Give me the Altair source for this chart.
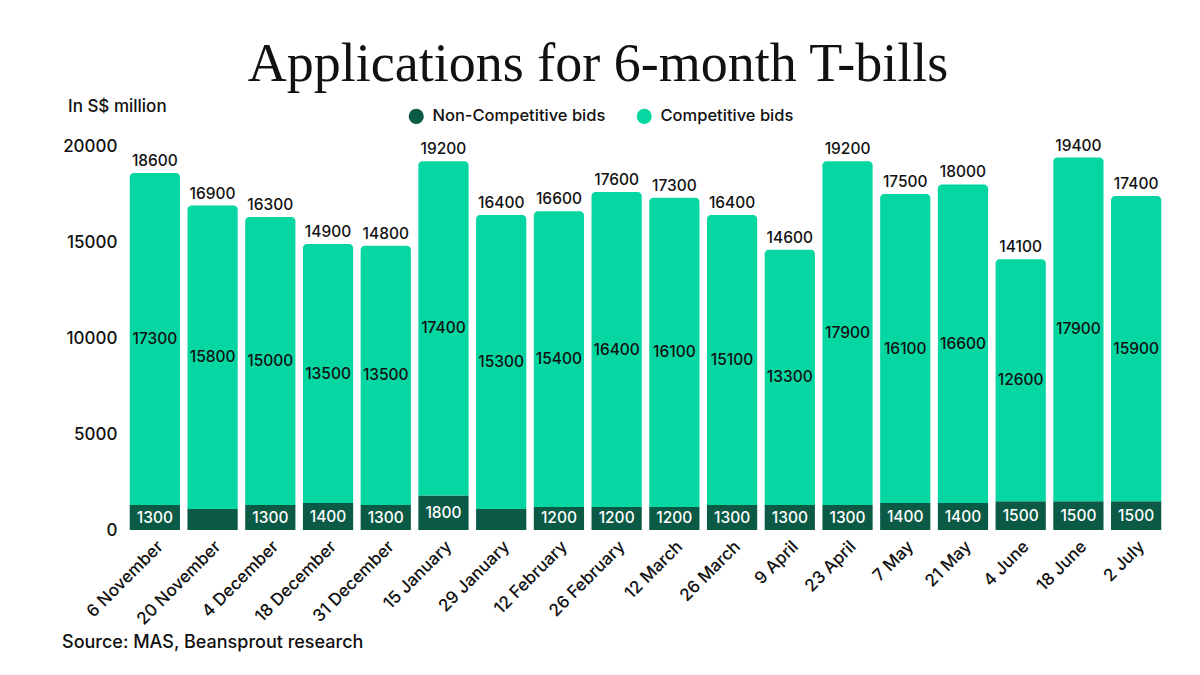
import altair as alt
import pandas as pd

# Auction dates (6-month T-bills)
dates = ["6 November", "20 November", "4 December", "18 December", "31 December",
         "15 January", "29 January", "12 February", "26 February", "12 March",
         "26 March", "9 April", "23 April", "7 May", "21 May", "4 June",
         "18 June", "2 July"]
# Applications, S$ million
total_bids = [18600, 16900, 16300, 14900, 14800, 19200, 16400, 16600, 17600,
              17300, 16400, 14600, 19200, 17500, 18000, 14100, 19400, 17400]
competitive = [17300, 15800, 15000, 13500, 13500, 17400, 15300, 15400, 16400,
               16100, 15100, 13300, 17900, 16100, 16600, 12600, 17900, 15900]
non_competitive = [1300, 1100, 1300, 1400, 1300, 1800, 1100, 1200, 1200,
                   1200, 1300, 1300, 1300, 1400, 1400, 1500, 1500, 1500]
y_ticks = [0, 5000, 10000, 15000, 20000]

series = ["Non-Competitive bids", "Competitive bids"]
palette = ["#0a5a45", "#06d7a2"]

FONT = "Inter"
INK = "#111111"

df = pd.DataFrame({
    "date": dates,
    "total": total_bids,
    "comp": competitive,
    "noncomp": non_competitive,
})
df["comp_mid"] = df["noncomp"] + df["comp"] / 2
df["noncomp_mid"] = df["noncomp"] / 2

long_rows = []
for d, c, n in zip(dates, competitive, non_competitive):
    long_rows.append({"date": d, "series": series[0], "y0": 0, "y1": n})
    long_rows.append({"date": d, "series": series[1], "y0": n, "y1": n + c})
long_df = pd.DataFrame(long_rows)

x_enc = alt.X(
    "date:N", sort=dates, title=None,
    scale=alt.Scale(paddingInner=0.13, paddingOuter=0.065),
    axis=alt.Axis(labelAngle=-45, labelFontSize=17, labelFont=FONT,
                  labelFontWeight=500, labelColor=INK, labelPadding=8,
                  ticks=False, domain=False, labelLimit=200),
)
y_scale = alt.Scale(domain=[0, 20000], nice=False)
color_enc = alt.Color(
    "series:N", title=None,
    scale=alt.Scale(domain=series, range=palette),
    legend=alt.Legend(orient="none", legendX=282, legendY=-38,
                      direction="horizontal", symbolType="circle",
                      symbolSize=230, symbolStrokeWidth=0,
                      labelFontSize=16.5, labelFont=FONT, labelFontWeight=500,
                      labelColor=INK, labelOffset=8,
                      labelLimit=300, columnPadding=30, symbolOffset=0),
)

base_long = alt.Chart(long_df)

noncomp_bars = base_long.transform_filter(
    alt.datum.series == series[0]
).mark_bar().encode(
    x=x_enc,
    y=alt.Y("y0:Q", scale=y_scale, title=None,
            axis=alt.Axis(values=y_ticks, format="d", labelFontSize=17,
                          labelFont=FONT, labelFontWeight=500, labelColor=INK,
                          labelPadding=9, ticks=False, domain=False,
                          grid=False)),
    y2="y1:Q",
    color=color_enc,
)

comp_bars = base_long.transform_filter(
    alt.datum.series == series[1]
).mark_bar(cornerRadiusTopLeft=4, cornerRadiusTopRight=4).encode(
    x=alt.X("date:N", sort=dates),
    y=alt.Y("y0:Q", scale=y_scale),
    y2="y1:Q",
    color=alt.Color("series:N", scale=alt.Scale(domain=series, range=palette)),
)

base = alt.Chart(df)

label_style = dict(fontSize=15.5, font=FONT, fontWeight=500)

total_labels = base.mark_text(
    baseline="bottom", dy=-4, color=INK, **label_style
).encode(
    x=alt.X("date:N", sort=dates),
    y=alt.Y("total:Q", scale=y_scale),
    text=alt.Text("total:Q", format="d"),
)

comp_labels = base.mark_text(
    baseline="middle", color=INK, **label_style
).encode(
    x=alt.X("date:N", sort=dates),
    y=alt.Y("comp_mid:Q", scale=y_scale),
    text=alt.Text("comp:Q", format="d"),
)

noncomp_labels = base.transform_filter(
    alt.datum.noncomp >= 1200
).mark_text(
    baseline="middle", color="white", **label_style
).encode(
    x=alt.X("date:N", sort=dates),
    y=alt.Y("noncomp_mid:Q", scale=y_scale),
    text=alt.Text("noncomp:Q", format="d"),
)

# Free-standing text: headline, unit note and source line
note_df = pd.DataFrame({"k": [0]})
headline = alt.Chart(note_df).mark_text(
    text="Applications for 6-month T-bills", font="Liberation Serif",
    fontSize=54, color=INK, align="center", baseline="alphabetic",
).encode(x=alt.value(472), y=alt.value(-65))

unit_note = alt.Chart(note_df).mark_text(
    text="In S$ million", font=FONT, fontSize=17, fontWeight=500, color=INK,
    align="left", baseline="middle",
).encode(x=alt.value(-58), y=alt.value(-39))

source_note = alt.Chart(note_df).mark_text(
    text="Source: MAS, Beansprout research", font=FONT, fontSize=18,
    fontWeight=500, color=INK, align="left", baseline="middle",
).encode(x=alt.value(-64), y=alt.value(497))

chart = alt.layer(
    noncomp_bars, comp_bars, total_labels, comp_labels, noncomp_labels,
    headline, unit_note, source_note,
).properties(
    width=1039, height=384,
    autosize=alt.AutoSizeParams(type="none"),
    padding={"left": 126, "top": 146, "right": 35, "bottom": 145},
    background="white",
).configure_view(stroke=None)

chart.save("out.html", embed_options={"renderer": "svg", "actions": False})
